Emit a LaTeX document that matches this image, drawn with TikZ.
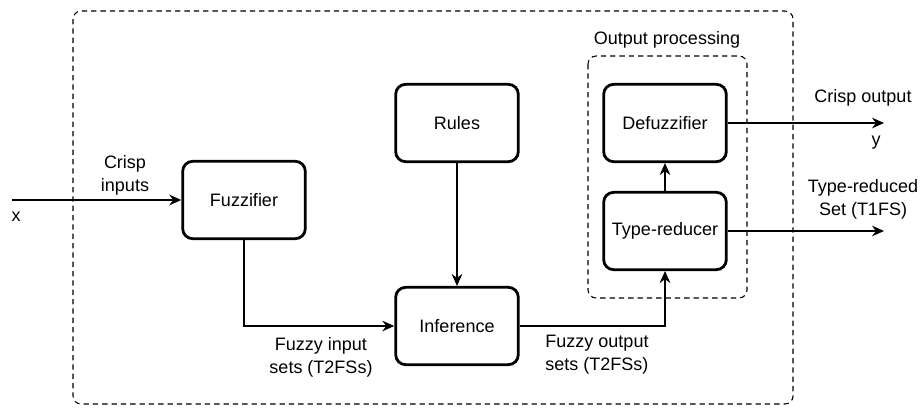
\documentclass[tikz,border=0pt]{standalone}
\usepackage{fontspec}
\setmainfont{Liberation Sans}
\usetikzlibrary{arrows.meta}
\newcommand\diagfont{\fontsize{13.5}{17.25}\selectfont}

\tikzset{
  block/.style={draw, line width=2.1pt, rounded corners=7.5pt, minimum width=92pt, minimum height=58pt, inner sep=0pt, font=\diagfont},
  conn/.style={line width=0.8pt, -{Stealth[length=9pt,width=8pt,inset=3pt]}},
  frame/.style={line width=0.8pt, dash pattern=on 4pt off 3pt, rounded corners=6pt},
  lbl/.style={align=center, font=\diagfont, inner sep=0pt}
}

\begin{document}
\begin{tikzpicture}[x=0.75pt,y=-0.75pt]
		\useasboundingbox (0,0) rectangle (921,407);
		
		%%%%% frames %%%%%
		\draw[frame] (73,11) rectangle (793,404);
		\draw[frame] (588,56) rectangle (747,298);
		\node[lbl] (oplbl) at (667,40) {Output processing};
		
		%%%%% blocks %%%%%
		\node[block] (fuzz) at (244,200) {Fuzzifier};
		\node[block] (rules) at (457,123) {Rules};
		\node[block] (infer) at (457,326) {Inference};
		\node[block] (defuzz) at (665,123) {Defuzzifier};
		\node[block] (reducer) at (665,231) {Type-reducer};
		
		\coordinate (xin) at (12,200);
		\coordinate (yout) at (884,123);
		\coordinate (setout) at (884,231);
		
		%%%%% connectors %%%%%
		\draw[conn] (xin) -- (fuzz);
		\draw[conn] (fuzz.south) |- (infer.west);
		\draw[conn] (rules) -- (infer);
		\draw[conn] (infer.east) -| (reducer.south);
		\draw[conn] (reducer) -- (defuzz);
		\draw[conn] (defuzz) -- (yout);
		\draw[conn] (reducer) -- (setout);
		
		%%%%% labels %%%%%
		\node[lbl] (crispin) at (125,175) {Crisp\\inputs};
		\node[lbl] (xlbl) at (16,217) {x};
		\node[lbl] (fin) at (321,357) {Fuzzy input\\sets (T2FSs)};
		\node[lbl, align=left] (fout) at (597,355) {Fuzzy output\\sets (T2FSs)};
		\node[lbl] (crispout) at (863,98) {Crisp output};
		\node[lbl] (ylbl) at (876,143) {y};
		\node[lbl] (trlbl) at (863,199) {Type-reduced\\Set (T1FS)};
\end{tikzpicture}
\end{document}
